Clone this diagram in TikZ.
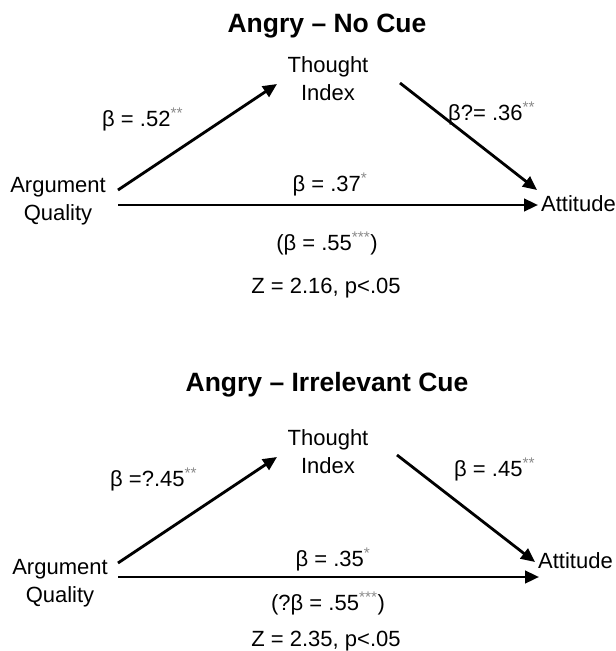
\documentclass[tikz,border=0pt]{standalone}
\usepackage{fontspec}
\setmainfont{Liberation Sans}
\usetikzlibrary{arrows.meta}
\definecolor{sgray}{HTML}{8A8A8A}
\newcommand\sig[1]{\textsuperscript{\color{sgray}#1}}
\tikzset{
  lbl/.style={inner sep=0pt, font=\fontsize{22}{28}\selectfont},
  box/.style={lbl, align=center},
  ttl/.style={inner sep=0pt, font=\fontsize{26.5}{30}\selectfont\bfseries},
  arr/.style={line width=2.8pt, -{Triangle[length=14pt,width=12.5pt]}}
}
\begin{document}
\begin{tikzpicture}[x=1pt,y=-1pt]
\useasboundingbox (0,0) rectangle (616,651);
% ---------- top panel ----------
\node[ttl, anchor=base] (t1) at (327,32) {Angry – No Cue};
\node[box] (ti1) at (328,79) {Thought\\Index};
\node[box] (aq1) at (58,201) {Argument\\Quality};
\node[lbl, anchor=base west] (at1) at (541,211) {Attitude};
\coordinate (a1s) at (118,190);
\coordinate (a1e) at (277,84);
\coordinate (b1s) at (400,83);
\coordinate (b1e) at (537,190);
\coordinate (c1s) at (118,205);
\coordinate (c1e) at (538,205);
\draw[arr] (a1s) -- (a1e);
\draw[arr] (b1s) -- (b1e);
\draw[arr] (c1s) -- (c1e);
\node[lbl, anchor=base west] (l52) at (102,126) {β = .52\sig{**}};
\node[lbl, anchor=base west] (l36) at (448,120) {β?= .36\sig{**}};
\node[lbl, anchor=base] (l37) at (330,191) {β = .37\sig{*}};
\node[lbl, anchor=base] (l55) at (327,250) {(β = .55\sig{***})};
\node[lbl, anchor=base] (z1) at (326,293) {Z = 2.16, p<.05};
% ---------- bottom panel ----------
\node[ttl, anchor=base] (t2) at (327,391) {Angry – Irrelevant Cue};
\node[box] (ti2) at (328,452) {Thought\\Index};
\node[box] (aq2) at (60,583) {Argument\\Quality};
\node[lbl, anchor=base west] (at2) at (538,568) {Attitude};
\coordinate (a2s) at (118,563);
\coordinate (a2e) at (277,457);
\coordinate (b2s) at (397,455);
\coordinate (b2e) at (535,562);
\coordinate (c2s) at (118,577);
\coordinate (c2e) at (539,577);
\draw[arr] (a2s) -- (a2e);
\draw[arr] (b2s) -- (b2e);
\draw[arr] (c2s) -- (c2e);
\node[lbl, anchor=base west] (l45a) at (110,486) {β =?.45\sig{**}};
\node[lbl, anchor=base west] (l45b) at (454,476) {β = .45\sig{**}};
\node[lbl, anchor=base] (l35) at (333,566) {β = .35\sig{*}};
\node[lbl, anchor=base] (l55b) at (328,610) {(?β = .55\sig{***})};
\node[lbl, anchor=base] (z2) at (326,646) {Z = 2.35, p<.05};
\end{tikzpicture}
\end{document}
